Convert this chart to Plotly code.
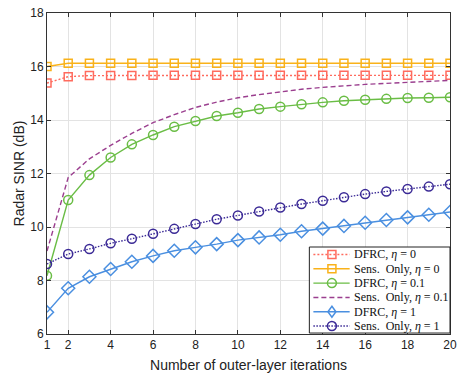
import plotly.graph_objects as go

iterations = list(range(1, 21))

dfrc_eta0 = [15.38, 15.62, 15.66, 15.66, 15.66, 15.67, 15.67, 15.67, 15.67, 15.67,
             15.67, 15.67, 15.67, 15.67, 15.67, 15.67, 15.67, 15.67, 15.67, 15.67]
sens_eta0 = [16.0, 16.12, 16.12, 16.12, 16.12, 16.12, 16.12, 16.12, 16.12, 16.12,
             16.12, 16.12, 16.12, 16.12, 16.12, 16.12, 16.12, 16.12, 16.12, 16.12]
dfrc_eta01 = [8.18, 11.01, 11.94, 12.60, 13.09, 13.44, 13.75, 13.96, 14.15, 14.27,
              14.41, 14.50, 14.59, 14.66, 14.72, 14.76, 14.79, 14.82, 14.83, 14.85]
sens_eta01 = [9.1, 11.85, 12.55, 13.05, 13.5, 13.9, 14.2, 14.47, 14.67, 14.83,
              14.95, 15.06, 15.15, 15.22, 15.28, 15.33, 15.37, 15.41, 15.45, 15.48]
dfrc_eta1 = [6.81, 7.71, 8.14, 8.43, 8.70, 8.92, 9.11, 9.24, 9.36, 9.51,
             9.61, 9.71, 9.84, 9.94, 10.04, 10.16, 10.26, 10.36, 10.46, 10.56]
sens_eta1 = [8.62, 8.99, 9.18, 9.39, 9.56, 9.75, 9.93, 10.11, 10.29, 10.43,
             10.58, 10.73, 10.86, 10.98, 11.11, 11.23, 11.33, 11.42, 11.51, 11.60]

series_names = ["DFRC, <i>η</i> = 0", "Sens.  Only, <i>η</i> = 0",
                "DFRC, <i>η</i> = 0.1", "Sens.  Only, <i>η</i> = 0.1",
                "DFRC, <i>η</i> = 1", "Sens.  Only, <i>η</i> = 1"]

x_ticks = [1, 2, 4, 6, 8, 10, 12, 14, 16, 18, 20]
y_ticks = [6, 8, 10, 12, 14, 16, 18]

# styles: (color, dash, marker symbol, marker size)
styles = [
    ("#FF6B5E", "2px,2px", "square-open", 8),
    ("#F9B21A", "solid", "square-open", 8),
    ("#6ABD45", "solid", "circle-open", 9),
    ("#9B3F8F", "5px,3px", None, 8),
    ("#4A8FE0", "solid", "diamond-open", 10),
    ("#3B2A96", "1.5px,1.5px", "circle-open", 9),
]
all_series = [dfrc_eta0, sens_eta0, dfrc_eta01, sens_eta01, dfrc_eta1, sens_eta1]

fig = go.Figure()
for y, name, (color, dash, symbol, size) in zip(all_series, series_names, styles):
    fig.add_trace(go.Scatter(
        x=iterations, y=y, name=name,
        mode="lines+markers" if symbol else "lines",
        line=dict(color=color, dash=dash, width=1.4),
        marker=dict(symbol=symbol or "circle", size=size, color=color,
                    line=dict(color=color, width=1.5)),
        showlegend=False,
    ))

# ---- compact boxed legend (MATLAB style), drawn in paper coordinates ----
leg_x0, leg_x1, leg_y0, leg_y1 = 0.651, 1.0, 0.003, 0.271
row_top, row_step = 0.2477, 0.0446
line_x0, line_x1, mark_x, text_x = 0.661, 0.751, 0.707, 0.756

shapes = [dict(type="rect", xref="paper", yref="paper",
               x0=leg_x0, x1=leg_x1, y0=leg_y0, y1=leg_y1,
               fillcolor="white", line=dict(color="#222222", width=1), layer="above")]
annotations = []
for i, (name, (color, dash, symbol, size)) in enumerate(zip(series_names, styles)):
    ry = row_top - i * row_step
    shapes.append(dict(type="line", xref="paper", yref="paper",
                       x0=line_x0, x1=line_x1, y0=ry, y1=ry,
                       line=dict(color=color, dash=dash, width=1.4), layer="above"))
    if symbol:
        h = 4 if "square" in symbol else 4.5
        base = dict(xref="paper", yref="paper", xsizemode="pixel", ysizemode="pixel",
                    xanchor=mark_x, yanchor=ry, line=dict(color=color, width=1.5),
                    layer="above")
        if "square" in symbol:
            shapes.append(dict(type="rect", x0=-h, x1=h, y0=-h, y1=h, **base))
        elif "circle" in symbol:
            shapes.append(dict(type="circle", x0=-h, x1=h, y0=-h, y1=h, **base))
        else:
            shapes.append(dict(type="path", path="M0,5.5 L4,0 L0,-5.5 L-4,0 Z", **base))
    annotations.append(dict(xref="paper", yref="paper", x=text_x, y=ry,
                            xanchor="left", yanchor="middle", showarrow=False,
                            text=name,
                            font=dict(family="Liberation Serif, DejaVu Serif, serif",
                                      size=12, color="#111111")))

axis_common = dict(
    showline=True, linecolor="#333333", linewidth=1, mirror="ticks",
    ticks="inside", ticklen=4, tickcolor="#333333",
    showgrid=True, gridcolor="#E3E3E3", gridwidth=1, zeroline=False,
    ticklabeloverflow="allow",
    tickfont=dict(family="Liberation Sans, Arial", size=12, color="#222222"),
)

fig.update_layout(
    width=463, height=379,
    margin=dict(l=47, r=6, t=13, b=45),
    paper_bgcolor="white", plot_bgcolor="white",
    xaxis=dict(range=[1, 20], tickvals=x_ticks,
               title=dict(text="Number of outer-layer iterations", standoff=8,
                          font=dict(family="Liberation Sans, Arial", size=14, color="#222222")),
               **axis_common),
    yaxis=dict(range=[6, 18], tickvals=y_ticks,
               title=dict(text="Radar SINR (dB)", standoff=2,
                          font=dict(family="Liberation Sans, Arial", size=14, color="#222222")),
               **axis_common),
    shapes=shapes,
    annotations=annotations,
    showlegend=False,
)

fig.write_html("out.html", config={"displayModeBar": False},
               post_script="document.body.style.margin='0';document.body.style.padding='0';")
